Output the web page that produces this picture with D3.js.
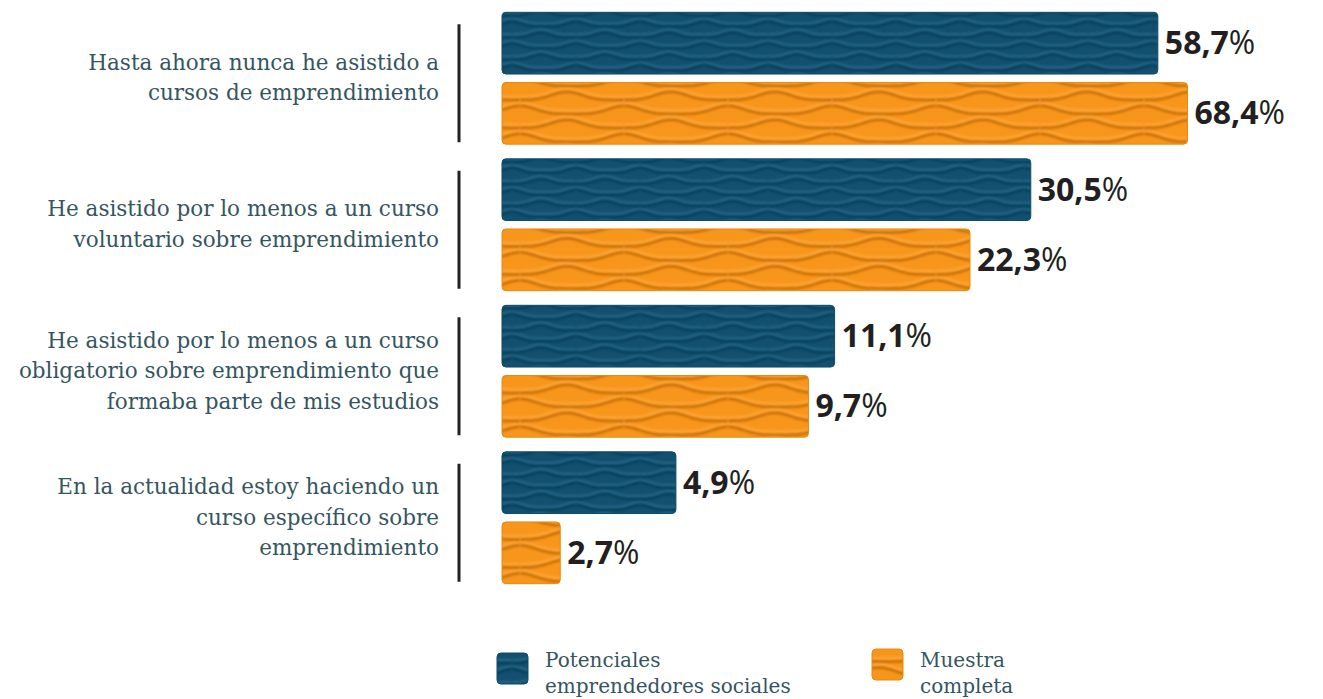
<!DOCTYPE html>
<html>
<head>
<meta charset="utf-8">
<script src="https://cdn.jsdelivr.net/npm/d3@7"></script>
<style>
  body { margin: 0; background: #fff; }
  svg { display: block; }
</style>
</head>
<body>
<script>
// cursos de emprendimiento - barras con textura de ondas

var categories = [
  "Hasta ahora nunca he asistido a|cursos de emprendimiento",
  "He asistido por lo menos a un curso|voluntario sobre emprendimiento",
  "He asistido por lo menos a un curso|obligatorio sobre emprendimiento que|formaba parte de mis estudios",
  "En la actualidad estoy haciendo un|curso específico sobre|emprendimiento"
];
var seriesNames = ["Potenciales|emprendedores sociales", "Muestra|completa"];
var potenciales = [58.7, 30.5, 11.1, 4.9];
var muestra = [68.4, 22.3, 9.7, 2.7];

var width = 1323, height = 699;
var barLeft = 502;

var svg = d3.select("body").append("svg")
    .attr("width", width)
    .attr("height", height);

var defs = svg.append("defs");

var blur = defs.append("filter").attr("id", "soft")
    .attr("x", "-10%").attr("y", "-50%").attr("width", "120%").attr("height", "200%");
blur.append("feGaussianBlur").attr("stdDeviation", 1.1);

// wavy dune texture, one per series
function wavePattern(id, base, light, dark, w, h, amp, op) {
  var p = defs.append("pattern")
      .attr("id", id)
      .attr("patternUnits", "userSpaceOnUse")
      .attr("width", w)
      .attr("height", h);
  p.append("rect").attr("width", w).attr("height", h).attr("fill", base);
  var line = d3.line().curve(d3.curveBasis);
  [[0, 0], [h / 2, w * 0.45]].forEach(function(r) {
    [-h, 0, h].forEach(function(dy) {
      var pts = d3.range(0, 41).map(function(i) {
        var x = i / 40 * w;
        var c = (1 + Math.cos(2 * Math.PI * (x - r[1]) / w)) / 2;
        return [x, r[0] + dy + h * 0.55 - amp * Math.pow(c, 2.2)];
      });
      // shadow under the crest
      p.append("path").attr("d", line(pts))
        .attr("fill", "none").attr("stroke", dark)
        .attr("stroke-width", 3).attr("stroke-opacity", op)
        .attr("transform", "translate(0,2)")
        .attr("filter", "url(#soft)");
      // light crest
      p.append("path").attr("d", line(pts))
        .attr("fill", "none").attr("stroke", light)
        .attr("stroke-width", 2).attr("stroke-opacity", 0.85)
        .attr("transform", "translate(0,-1)")
        .attr("filter", "url(#soft)");
    });
  });
}
wavePattern("wavesBlue", "#13506f", "#2d6d8e", "#083a55", 64, 22, 5, 0.7);
wavePattern("wavesOrange", "#f8961c", "#ffae48", "#b86300", 104, 28, 8, 0.75);

var fills = ["url(#wavesBlue)", "url(#wavesOrange)"];
var edge = ["#0d4a69", "#e68a10"];

var y = d3.scaleBand()
    .domain(d3.range(categories.length))
    .range([5, 591])
    .paddingInner(0.1)
    .paddingOuter(0.05);

var ySeries = d3.scaleBand()
    .domain([0, 1])
    .range([0, y.bandwidth()])
    .paddingInner(0.12);

var x = d3.scaleLog()
    .domain([2, 70])
    .range([0, 690]);

var fmt = d3.formatLocale({decimal: ",", thousands: ".", grouping: [3], currency: ["", "€"]}).format(".1f");

var rows = categories.map(function(c, i) {
  return {label: c.split("|"), values: [potenciales[i], muestra[i]], i: i};
});

var group = svg.selectAll("g.row")
  .data(rows)
  .enter().append("g")
  .attr("class", "row")
  .attr("transform", function(d) { return "translate(0," + y(d.i) + ")"; });

// category labels
group.each(function(d) {
  var g = d3.select(this);
  var cy = y.bandwidth() / 2;
  var n = d.label.length;
  g.append("text")
    .attr("text-anchor", "end")
    .attr("font-family", "'DejaVu Serif', serif")
    .attr("font-size", 21.5)
    .attr("fill", "#35555f")
    .selectAll("tspan")
    .data(d.label)
    .enter().append("tspan")
    .attr("x", 439)
    .attr("y", function(t, k) { return cy + 7 + (k - (n - 1) / 2) * 30.5; })
    .text(function(t) { return t; });
  g.append("line")
    .attr("x1", 459).attr("x2", 459)
    .attr("y1", cy + 5 - 59).attr("y2", cy + 5 + 59)
    .attr("stroke", "#222").attr("stroke-width", 3);
});

// bars
var bars = group.selectAll("g.bar")
  .data(function(d) { return d.values.map(function(v, s) { return {v: v, s: s}; }); })
  .enter().append("g")
  .attr("class", "bar");

bars.append("rect")
  .attr("x", barLeft)
  .attr("y", function(d) { return ySeries(d.s); })
  .attr("width", function(d) { return x(d.v); })
  .attr("height", ySeries.bandwidth())
  .attr("rx", 4)
  .attr("fill", function(d) { return fills[d.s]; })
  .attr("stroke", function(d) { return edge[d.s]; })
  .attr("stroke-width", 1);

var val = bars.append("text")
  .attr("x", function(d) { return barLeft + x(d.v) + 7; })
  .attr("y", function(d) { return ySeries(d.s) + ySeries.bandwidth() / 2 + 11; })
  .attr("font-family", "'Open Sans', sans-serif")
  .attr("font-size", 32)
  .attr("fill", "#231f20");
val.append("tspan").attr("font-weight", 700).text(function(d) { return fmt(d.v); });
val.append("tspan").attr("font-weight", 400).text("%");

// legend
var legendX = [497, 872];
var legendY = [653, 649];
var legend = svg.selectAll("g.legend")
  .data(seriesNames)
  .enter().append("g")
  .attr("class", "legend");

legend.append("rect")
  .attr("x", function(d, i) { return legendX[i]; })
  .attr("y", function(d, i) { return legendY[i]; })
  .attr("width", 31).attr("height", 31).attr("rx", 4)
  .attr("fill", function(d, i) { return fills[i]; })
  .attr("stroke", function(d, i) { return edge[i]; });

legend.append("text")
  .attr("font-family", "'DejaVu Serif', serif")
  .attr("font-size", 20)
  .attr("fill", "#35555f")
  .each(function(d, i) {
    d3.select(this).selectAll("tspan")
      .data(d.split("|"))
      .enter().append("tspan")
      .attr("x", legendX[i] + 48)
      .attr("y", function(t, k) { return 667 + k * 26; })
      .text(function(t) { return t; });
  });
</script>
</body>
</html>
